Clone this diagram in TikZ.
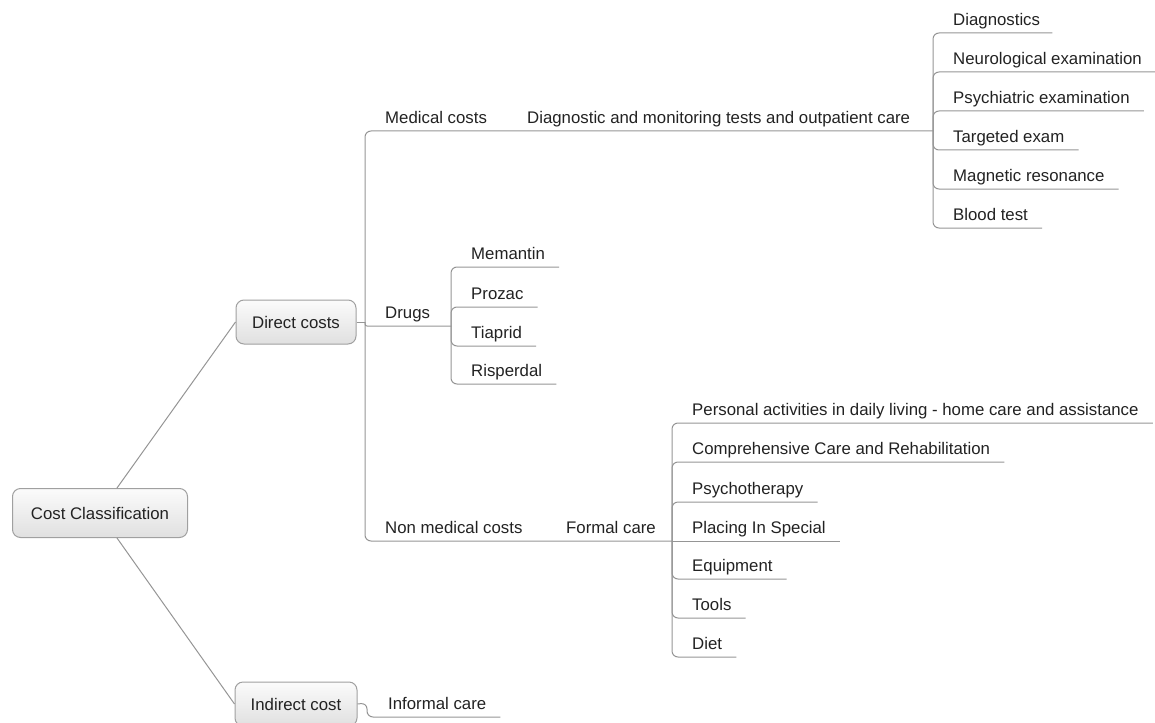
\documentclass[tikz,border=0pt]{standalone}
\usepackage{fontspec}
\setsansfont{Liberation Sans}
\usepackage{tikz}
\usetikzlibrary{positioning,calc}
\definecolor{mapLine}{HTML}{959595}
\definecolor{mapBorder}{HTML}{A0A0A0}
\definecolor{mapText}{HTML}{222222}
\definecolor{mapTop}{HTML}{FBFBFB}
\definecolor{mapBottom}{HTML}{E0E0E0}
\tikzset{
  every picture/.append style={font=\sffamily\fontsize{16.8}{20}\selectfont},
  topicbox/.style={rectangle,rounded corners=8pt,draw=mapBorder,line width=1pt,top color=mapTop,bottom color=mapBottom,text=mapText,inner sep=0pt,align=center,minimum height=44pt},
  topic/.style={rectangle,inner xsep=0pt,inner ysep=7pt,text depth=0pt,text=mapText,anchor=south west},
  link/.style={draw=mapLine,line width=1pt,rounded corners=6pt},
}
\begin{document}
\begin{tikzpicture}[x=1pt,y=-1pt]
  \useasboundingbox (0,0) rectangle (1155,722);
  \clip (0,0) rectangle (1155,722);

  % main topics
  \node[topicbox, minimum width=175pt, minimum height=49pt] (root) at (100,513) {Cost Classification};
  \node[topicbox, minimum width=120pt] (direct) at (296,322) {Direct costs};
  \node[topicbox, minimum width=122pt] (indirect) at (296,704) {Indirect cost};
  \draw[link] ([xshift=17pt]root.north) -- (direct.west);
  \draw[link] ([xshift=17pt]root.south) -- (indirect.west);

  % direct costs
  \coordinate (dcJ) at (365,322);
  \node[topic] (medical) at (385,131) {Medical costs};
  \node[topic] (drugs) at (385,326) {Drugs};
  \node[topic] (nonmed) at (385,541) {Non medical costs};
  \node[topic] (diag) at (527,131) {Diagnostic and monitoring tests and outpatient care};
  \node[topic] (formal) at (566,541) {Formal care};
  \coordinate (diagJ) at (933,131);
  \coordinate (drugsJ) at (451,326);
  \coordinate (formalJ) at (672,541);
  \draw[link] (direct.east) -- (dcJ);
  \draw[link] (dcJ) |- (medical.south) -- (diag.south) -- (diagJ);
  \draw[link, rounded corners=2pt] (dcJ) |- (drugsJ);
  \draw[link] (dcJ) |- (nonmed.south) -- (formal.south) -- (formalJ);

  % tests
  \node[topic] (diagnostics) at (953,33) {Diagnostics};
  \node[topic] (neuro) at (953,72) {Neurological examination};
  \node[topic] (psych) at (953,111) {Psychiatric examination};
  \node[topic] (targeted) at (953,150) {Targeted exam};
  \node[topic] (magnetic) at (953,189) {Magnetic resonance};
  \node[topic] (blood) at (953,228) {Blood test};
  \draw[link] (diagJ) |- ([xshift=12pt]diagnostics.south east);
  \draw[link] (diagJ) |- ([xshift=14pt]neuro.south east);
  \draw[link] (diagJ) |- ([xshift=14pt]psych.south east);
  \draw[link] (diagJ) |- ([xshift=14pt]targeted.south east);
  \draw[link] (diagJ) |- ([xshift=14pt]magnetic.south east);
  \draw[link] (diagJ) |- ([xshift=14pt]blood.south east);

  % drugs
  \node[topic] (memantin) at (471,267) {Memantin};
  \node[topic] (prozac) at (471,307) {Prozac};
  \node[topic] (tiaprid) at (471,346) {Tiaprid};
  \node[topic] (risperdal) at (471,384) {Risperdal};
  \draw[link] (drugsJ) |- ([xshift=14pt]memantin.south east);
  \draw[link] (drugsJ) |- ([xshift=14pt]prozac.south east);
  \draw[link] (drugsJ) |- ([xshift=14pt]tiaprid.south east);
  \draw[link] (drugsJ) |- ([xshift=14pt]risperdal.south east);

  % formal care
  \node[topic] (personal) at (692,423) {Personal activities in daily living - home care and assistance};
  \node[topic] (comprehensive) at (692,462) {Comprehensive Care and Rehabilitation};
  \node[topic] (psycho) at (692,502) {Psychotherapy};
  \node[topic] (placing) at (692,541) {Placing In Special};
  \node[topic] (equipment) at (692,579) {Equipment};
  \node[topic] (tools) at (692,618) {Tools};
  \node[topic] (diet) at (692,657) {Diet};
  \draw[link] (formalJ) |- ([xshift=14pt]personal.south east);
  \draw[link] (formalJ) |- ([xshift=14pt]comprehensive.south east);
  \draw[link] (formalJ) |- ([xshift=14pt]psycho.south east);
  \draw[link] (formalJ) -- ([xshift=14pt]placing.south east);
  \draw[link] (formalJ) |- ([xshift=14pt]equipment.south east);
  \draw[link] (formalJ) |- ([xshift=14pt]tools.south east);
  \draw[link] (formalJ) |- ([xshift=14pt]diet.south east);

  % indirect cost
  \coordinate (indJ) at (367,703);
  \node[topic] (informal) at (388,717) {Informal care};
  \draw[link] (indirect.east) -- (indJ) |- ([xshift=14pt]informal.south east);
\end{tikzpicture}
\end{document}
